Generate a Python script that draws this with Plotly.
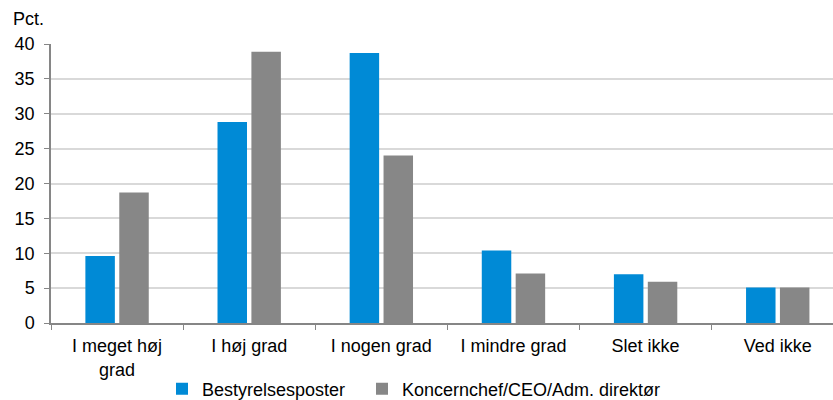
import plotly.graph_objects as go

categories = ["I meget høj<br>grad", "I høj grad", "I nogen grad", "I mindre grad", "Slet ikke", "Ved ikke"]
bestyrelse = [9.6, 28.8, 38.7, 10.4, 7.0, 5.1]
koncernchef = [18.7, 38.9, 24.0, 7.1, 5.9, 5.1]
series_names = ["Bestyrelsesposter", "Koncernchef/CEO/Adm. direktør"]
y_ticks = [0, 5, 10, 15, 20, 25, 30, 35, 40]

W, H = 833, 400
ML, MR, MT, MB = 51, 0, 44, 77
FONT = "Liberation Sans, Arial, sans-serif"

fig = go.Figure()
fig.add_trace(go.Bar(x=categories, y=bestyrelse, name=series_names[0],
                     marker=dict(color="#008AD6", line=dict(width=0)), legend="legend"))
fig.add_trace(go.Bar(x=categories, y=koncernchef, name=series_names[1],
                     marker=dict(color="#878787", line=dict(width=0)), legend="legend2"))

plot_h = H - MT - MB
plot_w = W - ML - MR

fig.update_layout(
    width=W, height=H,
    margin=dict(l=ML, r=MR, t=MT, b=MB, autoexpand=False),
    paper_bgcolor="white", plot_bgcolor="white",
    font=dict(family=FONT, size=18, color="#000000"),
    barmode="group", bargap=0.487, bargroupgap=0.13,
    showlegend=True,
    legend=dict(orientation="h", xref="container", yref="container",
                x=(204 - 42) / W, y=1 - 389 / H, xanchor="left", yanchor="middle",
                font=dict(size=18), bgcolor="rgba(0,0,0,0)", borderwidth=0),
    legend2=dict(orientation="h", xref="container", yref="container",
                 x=(404 - 42) / W, y=1 - 389 / H, xanchor="left", yanchor="middle",
                 font=dict(size=18), bgcolor="rgba(0,0,0,0)", borderwidth=0),
    xaxis=dict(
        type="category",
        range=[-0.5, 5.5 - 10.8 / 132.1],
        showline=True, linecolor="#868686", linewidth=1.5,
        ticks="outside", tickson="boundaries", ticklen=5, tickcolor="#868686",
        ticklabelstandoff=6,
        showgrid=False, tickfont=dict(size=18),
    ),
    yaxis=dict(
        range=[0, 40], tickvals=y_ticks,
        showline=True, linecolor="#868686", linewidth=1.5,
        ticks="outside", ticklen=5, tickcolor="#868686",
        ticklabelstandoff=6,
        showgrid=True, gridcolor="#D9D9D9", gridwidth=1.5,
        zeroline=False, tickfont=dict(size=18),
    ),
    annotations=[dict(text="Pct.", xref="paper", yref="paper",
                      x=(11 - ML) / plot_w, y=(H - MB - 18.7) / plot_h,
                      xanchor="left", yanchor="middle", showarrow=False,
                      font=dict(size=18))],
)

fig.write_html(
    "out.html",
    config={"displayModeBar": False},
    post_script="document.body.style.margin='0';document.body.style.overflow='hidden';",
)
